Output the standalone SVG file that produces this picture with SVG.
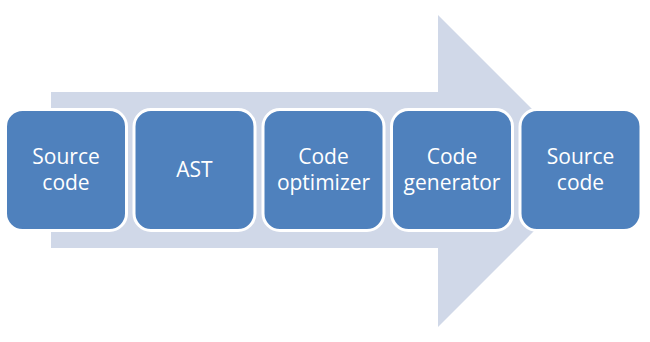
<svg xmlns="http://www.w3.org/2000/svg" width="650" height="342" viewBox="0 0 650 342">
  <style>
    .box { fill: #4F81BD; stroke: #FFFFFF; stroke-width: 3; }
    .lbl { fill: #FFFFFF; font-family: "Open Sans", "Liberation Sans", sans-serif; font-size: 21px; text-anchor: middle; }
  </style>
  <rect width="650" height="342" fill="#FFFFFF"/>
  <g id="connectors">
    <polygon points="51,92 438,92 438,15 594,171 438,327 438,248 51,248" fill="#D0D8E8"/>
  </g>
  <g id="source-code-in">
    <rect class="box" x="5.5" y="109.5" width="121" height="121" rx="17"/>
    <text class="lbl" x="66" y="164">Source</text>
    <text class="lbl" x="66" y="190">code</text>
  </g>
  <g id="ast">
    <rect class="box" x="134" y="109.5" width="121" height="121" rx="17"/>
    <text class="lbl" x="194.5" y="177">AST</text>
  </g>
  <g id="code-optimizer">
    <rect class="box" x="263" y="109.5" width="121" height="121" rx="17"/>
    <text class="lbl" x="323.5" y="164">Code</text>
    <text class="lbl" x="323.5" y="190">optimizer</text>
  </g>
  <g id="code-generator">
    <rect class="box" x="391.5" y="109.5" width="121" height="121" rx="17"/>
    <text class="lbl" x="452" y="164">Code</text>
    <text class="lbl" x="452" y="190">generator</text>
  </g>
  <g id="source-code-out">
    <rect class="box" x="520" y="109.5" width="121" height="121" rx="17"/>
    <text class="lbl" x="580.5" y="164">Source</text>
    <text class="lbl" x="580.5" y="190">code</text>
  </g>
</svg>
